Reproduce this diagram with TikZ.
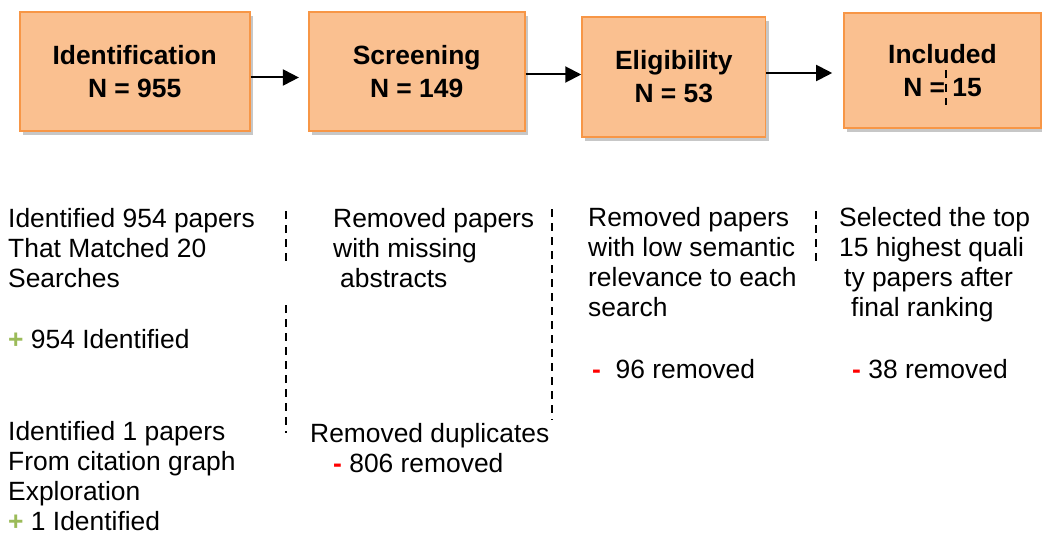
\documentclass[tikz,border=0pt]{standalone}
\usepackage{fontspec}
\setmainfont{Liberation Sans}
\usepackage{xcolor}
\usetikzlibrary{arrows.meta,shadows,positioning}

\definecolor{stagefill}{HTML}{FAC090}
\definecolor{stageline}{HTML}{F79646}
\definecolor{plusgreen}{HTML}{9BBB59}
\definecolor{minusred}{HTML}{FF0000}
\newcommand{\plusmark}{\textcolor{plusgreen}{\textbf{+}}}
\newcommand{\minusmark}{\textcolor{minusred}{\textbf{-}}}

\begin{document}
\begin{tikzpicture}[x=1pt, y=-1pt,
    stage/.style={draw=stageline, line width=1.6pt, fill=stagefill, align=center,
        font=\bfseries\fontsize{26.4}{33}\selectfont,
        drop shadow={shadow xshift=3pt, shadow yshift=-4pt, fill=black, opacity=0.22}},
    note/.style={anchor=base west, inner sep=0pt, align=left,
        font=\fontsize{26.4}{30}\selectfont},
    sep/.style={line width=1.5pt, dash pattern=on 8pt off 6pt},
    arr/.style={-{Triangle[length=16pt, width=16pt]}, line width=2pt}]
    \useasboundingbox (0,0) rectangle (1042,535);

    % Stages
    \node[stage, minimum width=230pt, minimum height=119pt] (ident) at (134.7,71.5) {Identification\\N = 955};
    \node[stage, minimum width=216pt, minimum height=119pt] (screen) at (416.7,71.5) {Screening\\N = 149};
    \node[stage, minimum width=183.5pt, minimum height=119.4pt] (elig) at (673.8,77) {Eligibility\\N = 53};
    \node[stage, minimum width=197pt, minimum height=115pt] (incl) at (942.5,70.5) {Included\\N = 15};

    % Flow arrows
    \coordinate (a1) at ([yshift=-6pt]ident.east);
    \coordinate (a2) at ([yshift=-3pt]screen.east);
    \coordinate (a3) at ([yshift=4pt]elig.east);
    \draw[arr, shorten >=9pt] (a1) -- (a1 -| screen.west);
    \draw[arr] (a2) -- (a2 -| elig.west);
    \draw[arr, shorten >=11pt] (a3) -- (a3 -| incl.west);

    % Identification notes (placed by the baseline of the last line)
    \node[note] (idsearch) at (8,287) {Identified 954 papers\\That Matched 20\\Searches};
    \node[note] (idplus) at (8,348) {\plusmark{} 954 Identified};
    \node[note] (idcite) at (8,530) {Identified 1 papers\\From citation graph\\Exploration\\\plusmark{} 1 Identified};

    % Screening notes
    \node[note] (scrmiss) at (333,287) {Removed papers\\with missing\\\hspace*{7pt}abstracts};
    \node[note] (scrdup) at (310,472) {Removed duplicates\\\hspace*{23pt}\minusmark{} 806 removed};

    % Eligibility notes
    \node[note] (elgsem) at (588,316) {Removed papers\\with low semantic\\relevance to each\\search};
    \node[note] (elgrem) at (592,378) {\minusmark{}\ \ 96 removed};

    % Included notes
    \node[note] (incsel) at (839,316) {Selected the top\\15 highest quali\\\hspace*{5pt}ty papers after\\\hspace*{12pt}final ranking};
    \node[note] (increm) at (852,378) {\minusmark{} 38 removed};

    % Separators
    \draw[sep] (286,211) -- (286,261);
    \draw[sep] (286,305) -- (286,433);
    \draw[sep] (552,209) -- (552,420);
    \draw[sep] (816,211) -- (816,262);
    \draw[sep] (946,70) -- (946,105);
\end{tikzpicture}
\end{document}
